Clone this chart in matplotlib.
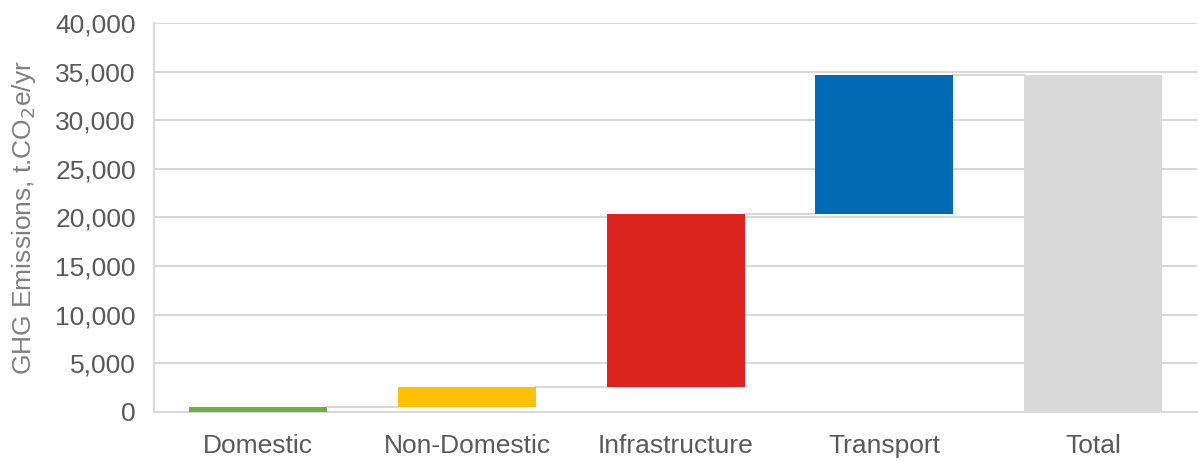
import numpy as np
import matplotlib.pyplot as plt
from matplotlib.ticker import FuncFormatter

plt.rcParams['font.family'] = ['Liberation Sans', 'DejaVu Sans']

categories = ['Domestic', 'Non-Domestic', 'Infrastructure', 'Transport', 'Total']
steps = [550, 2000, 17800, 14300]
colors = ['#70ad47', '#ffc000', '#dc241f', '#006ab4', '#d9d9d9']
yticks = [0, 5000, 10000, 15000, 20000, 25000, 30000, 35000, 40000]

ends = np.cumsum(steps)
starts = ends - np.array(steps)
total = ends[-1]
bottoms = list(starts) + [0]
heights = list(steps) + [total]
tops = list(ends) + [total]

fig = plt.figure(figsize=(11.98, 4.61), dpi=100)
ax = fig.add_axes([0.1285, 0.1063, 0.871, 0.8438])

x = np.arange(len(categories))
w = 0.66
ax.bar(x, heights, bottom=bottoms, width=w, color=colors, zorder=3)

# connector lines between bars
for i in range(len(categories) - 1):
    ax.plot([x[i] + w / 2, x[i + 1] - w / 2], [tops[i], tops[i]],
            color='#d9d9d9', lw=1.5, zorder=2)

ax.set_xlim(-0.5, len(categories) - 0.5)
ax.set_ylim(0, 40000)
ax.set_yticks(yticks)
ax.yaxis.set_major_formatter(FuncFormatter(lambda v, p: f'{int(v):,}'))
ax.set_xticks(x)
ax.set_xticklabels(categories)
ax.tick_params(axis='both', length=0, labelsize=19, colors='#595959')
ax.tick_params(axis='x', pad=16)
ax.tick_params(axis='y', pad=13)
ax.grid(axis='y', color='#d9d9d9', lw=1.5, zorder=0)

for s in ['top', 'right']:
    ax.spines[s].set_visible(False)
for s in ['left', 'bottom']:
    ax.spines[s].set_color('#d9d9d9')
    ax.spines[s].set_linewidth(1.5)

ax.set_ylabel('GHG Emissions, t.CO$_2$e/yr', fontsize=19, color='#7f7f7f')
ax.yaxis.set_label_coords(-0.111, 0.5)

fig.savefig('out.png', dpi=100)
